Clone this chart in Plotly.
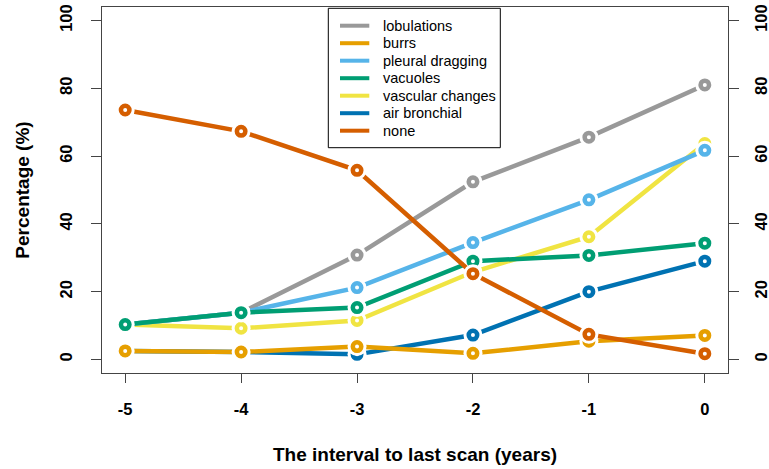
import plotly.graph_objects as go

years = [-5, -4, -3, -2, -1, 0]
series_names = ["lobulations", "burrs", "pleural dragging", "vacuoles",
                "vascular changes", "air bronchial", "none"]
lobulations = [10.3, 13.8, 30.8, 52.4, 65.6, 81.0]
burrs = [2.5, 2.2, 3.8, 1.8, 5.4, 7.1]
pleural_dragging = [10.3, 13.8, 21.2, 34.5, 47.1, 61.7]
vacuoles = [10.3, 13.8, 15.3, 29.0, 30.7, 34.3]
vascular_changes = [10.3, 9.2, 11.5, 25.8, 36.2, 63.7]
air_bronchial = [2.5, 2.2, 1.5, 7.2, 20.0, 29.0]
none_ = [73.6, 67.3, 55.8, 25.3, 7.4, 1.7]
colors = ["#999999", "#E69F00", "#56B4E9", "#009E73", "#F0E442", "#0072B2", "#D55E00"]
y_ticks = [0, 20, 40, 60, 80, 100]

data = [lobulations, burrs, pleural_dragging, vacuoles, vascular_changes, air_bronchial, none_]
draw_order = [0, 4, 2, 3, 5, 1, 6]
FONT = "Liberation Sans"

W, H = 769, 469
ML, MR, MT, MB = 102, 41, 7, 96
PW, PH = W - ML - MR, H - MT - MB


def px_x(p):
    return (p - ML) / PW


def px_y(p):
    return (H - MB - p) / PH


fig = go.Figure()
for i in draw_order:
    name, vals, col = series_names[i], data[i], colors[i]
    fig.add_trace(go.Scatter(x=years, y=vals, mode="lines", name=name,
                             line=dict(color=col, width=4.5), showlegend=False))
    fig.add_trace(go.Scatter(x=years, y=vals, mode="markers", showlegend=False,
                             hoverinfo="skip",
                             marker=dict(symbol="circle", size=19, color="white",
                                         line=dict(width=0))))
    fig.add_trace(go.Scatter(x=years, y=vals, mode="markers", showlegend=False,
                             name=name,
                             marker=dict(symbol="circle", size=8.5, color="white",
                                         line=dict(width=4.5, color=col))))

fig.add_trace(go.Scatter(x=[-5], y=[0], yaxis="y2", mode="markers",
                         marker=dict(opacity=0), showlegend=False, hoverinfo="skip"))

# legend (drawn by hand to match the compact R legend)
shapes = [dict(type="rect", xref="paper", yref="paper",
               x0=px_x(328.3), x1=px_x(500.3), y0=px_y(147.7), y1=px_y(8.3),
               line=dict(color="black", width=1), fillcolor="white", layer="above")]
annotations = []
for k, (name, col) in enumerate(zip(series_names, colors)):
    yy = px_y(25.7 + 17.5 * k)
    shapes.append(dict(type="line", xref="paper", yref="paper",
                       x0=px_x(340), x1=px_x(369.3), y0=yy, y1=yy,
                       line=dict(color=col, width=4), layer="above"))
    annotations.append(dict(text=name, xref="paper", yref="paper",
                            x=px_x(380.7), y=yy, xanchor="left", yanchor="middle",
                            showarrow=False,
                            font=dict(family=FONT, size=14.5, color="black")))

tickfont = dict(family=FONT, size=16.5, color="black", weight="bold")
titlefont = dict(family=FONT, size=19, color="black", weight="bold")
fig.update_layout(
    width=W, height=H,
    margin=dict(l=ML, r=MR, t=MT, b=MB),
    paper_bgcolor="white", plot_bgcolor="white",
    font=dict(family=FONT, color="black"),
    shapes=shapes, annotations=annotations,
    showlegend=False,
    xaxis=dict(range=[-5.2, 0.2], tickvals=years, ticktext=[str(v) for v in years],
               automargin=False,
               showgrid=False, zeroline=False, showline=True, mirror=True,
               linecolor="#444444", linewidth=1.3,
               ticks="outside", ticklen=9, tickcolor="#444444", tickwidth=1.2,
               tickfont=tickfont, ticklabelstandoff=12,
               title=dict(text="The interval to last scan (years)", font=titlefont,
                          standoff=30)),
    yaxis=dict(range=[-4, 104], tickvals=y_ticks, showgrid=False, zeroline=False,
               automargin=False,
               showline=True, mirror=True, linecolor="#444444", linewidth=1.3,
               ticks="outside", ticklen=10, tickcolor="#444444", tickwidth=1.2,
               tickangle=-90, tickfont=tickfont, ticklabelstandoff=12,
               title=dict(text="Percentage (%)", font=titlefont, standoff=22)),
    yaxis2=dict(range=[-4, 104], tickvals=y_ticks, overlaying="y", side="right",
                automargin=False,
                showgrid=False, zeroline=False, showline=False,
                ticks="outside", ticklen=10, tickcolor="#444444", tickwidth=1.2,
                tickangle=-90, tickfont=tickfont, ticklabelstandoff=8),
)
fig.write_html("out.html", config={"displayModeBar": False},
               post_script="document.body.style.margin='0';document.body.style.padding='0';")
